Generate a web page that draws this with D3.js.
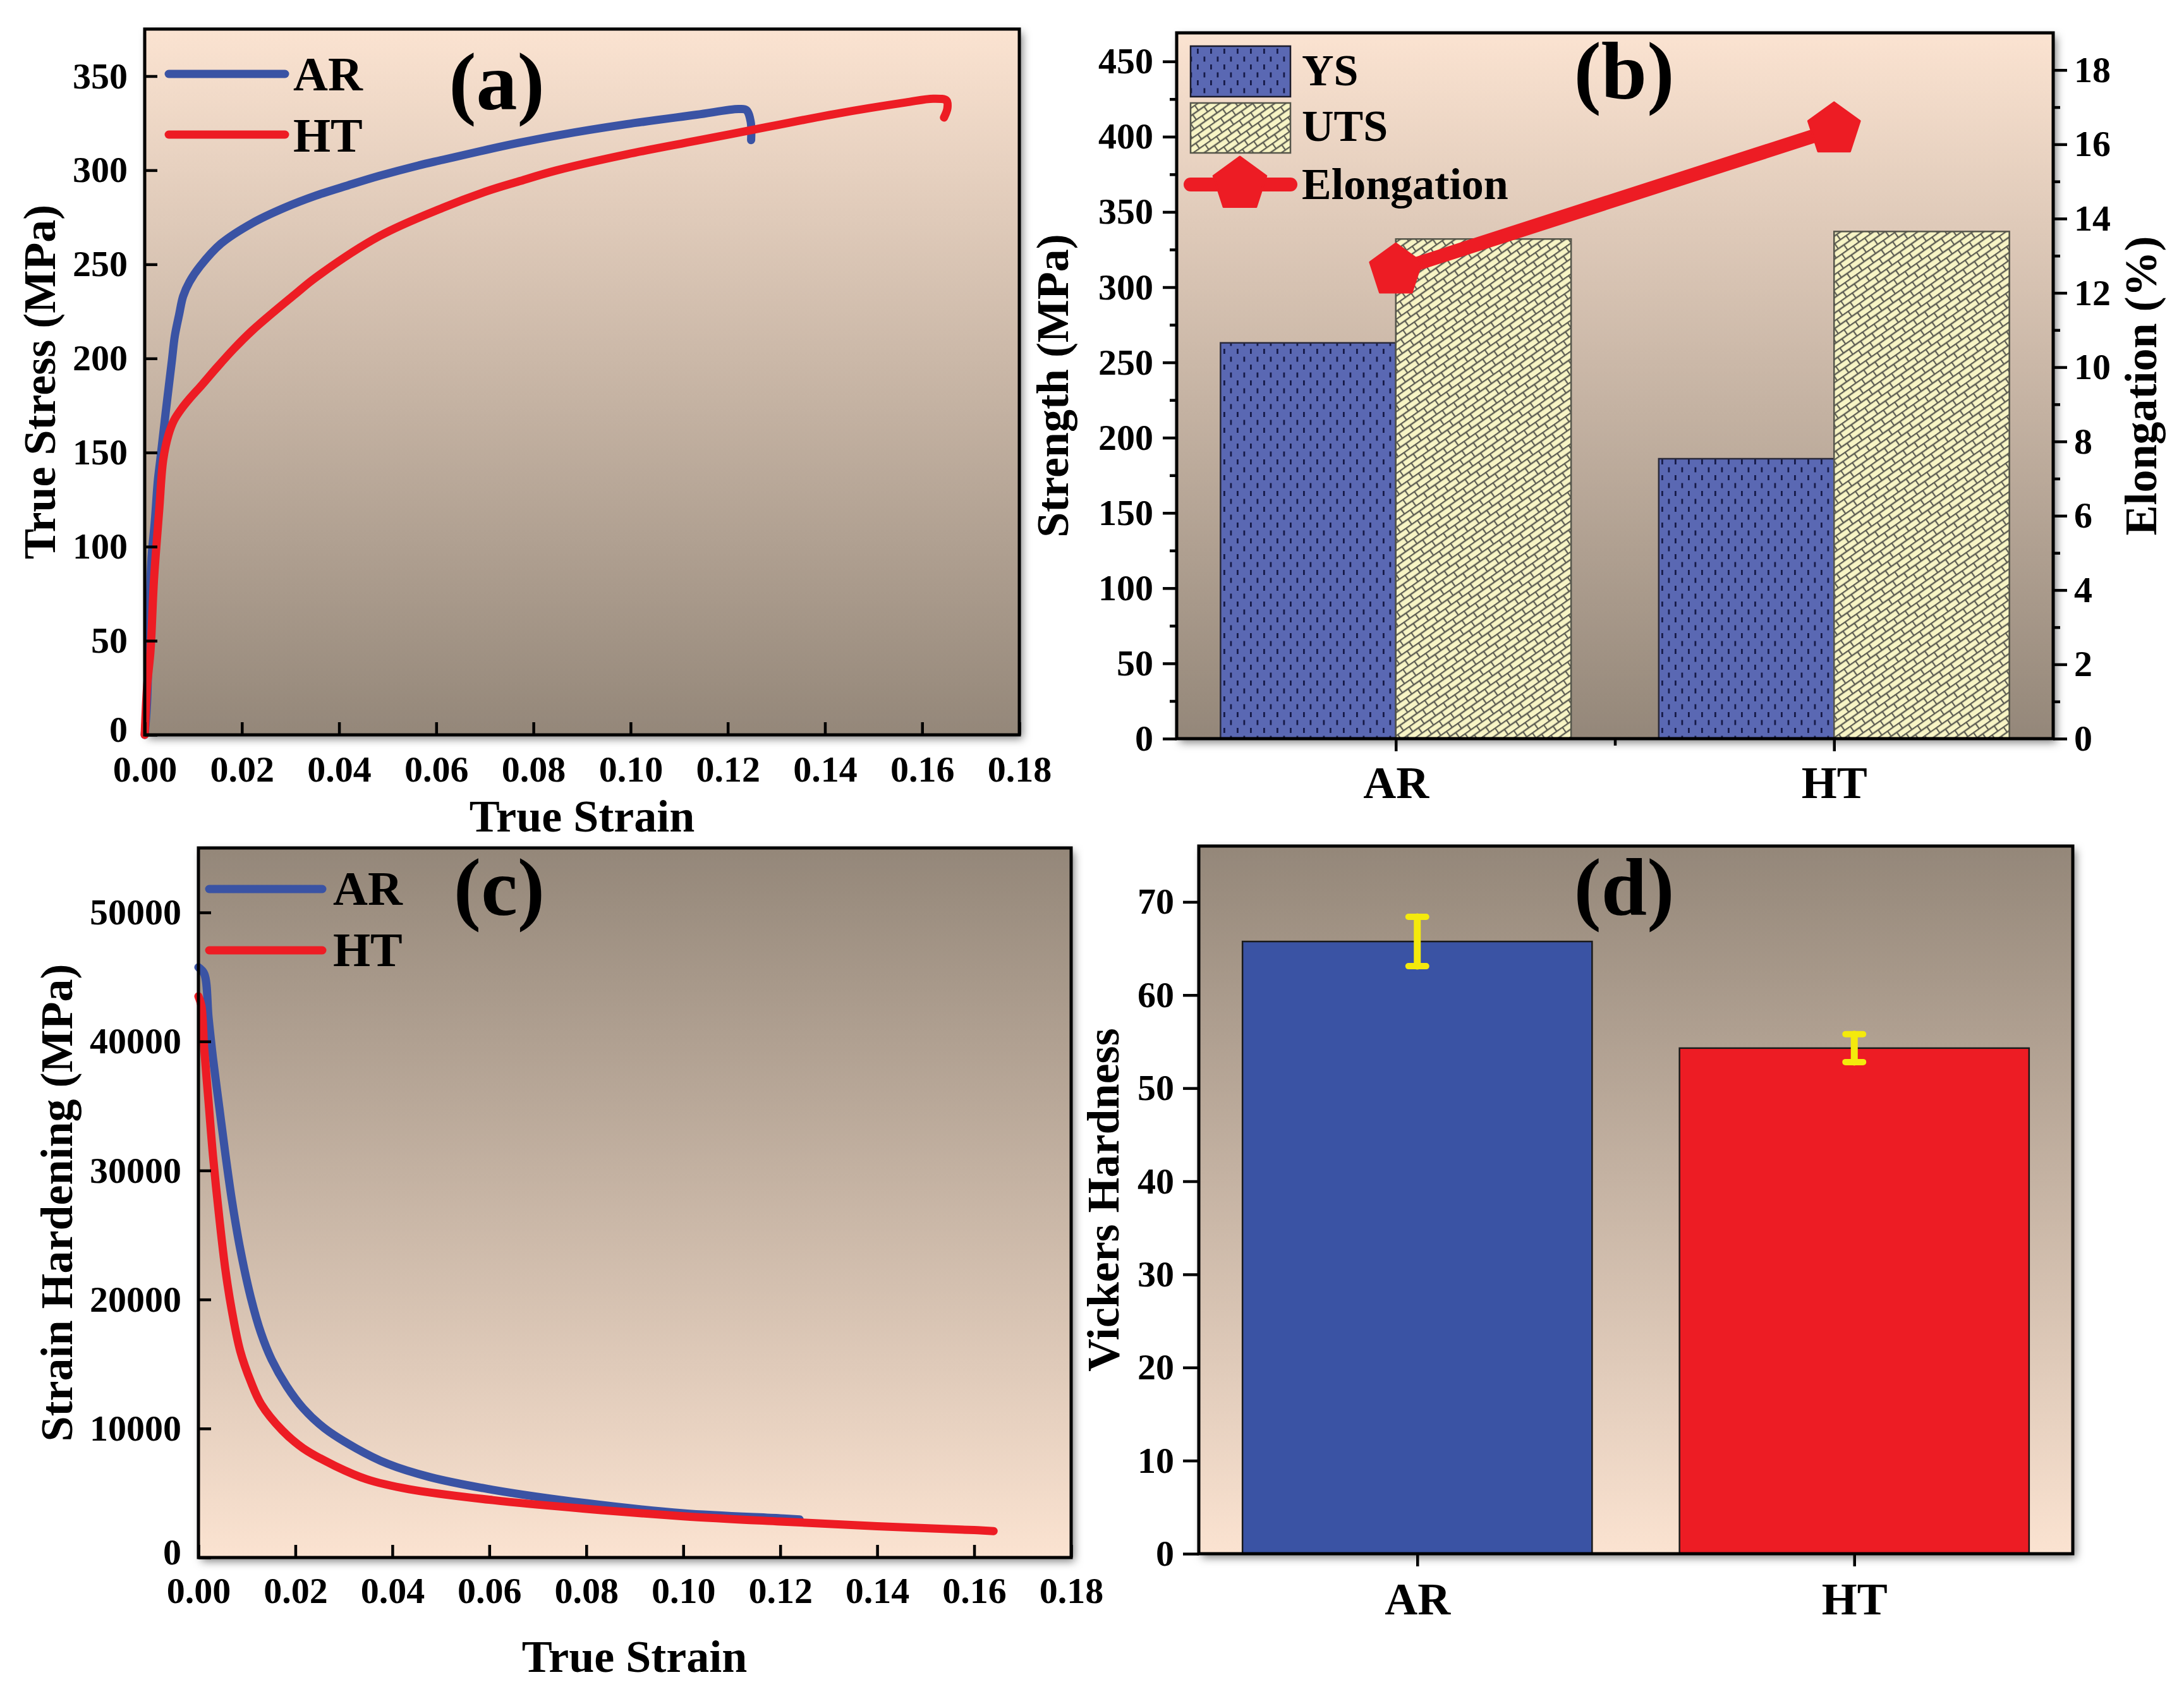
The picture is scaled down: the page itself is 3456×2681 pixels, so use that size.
<!DOCTYPE html>
<html>
<head>
<meta charset="utf-8">
<script src="https://cdn.jsdelivr.net/npm/d3@7/dist/d3.min.js"></script>
<style>
  body { margin: 0; background: #ffffff; }
  svg { display: block; }
</style>
</head>
<body>
<svg id="chart" width="3456" height="2681"></svg>
<script>
// ---------------- DATA ----------------
// (a) true stress-strain
const arStrain = [0, 0.0005, 0.0008, 0.0011, 0.0014, 0.0021, 0.0027, 0.0032, 0.0043, 0.0049, 0.0056, 0.0062, 0.0071, 0.0079, 0.0092, 0.0114, 0.0157, 0.0222, 0.0287, 0.0352, 0.0419, 0.0483, 0.0563, 0.0613, 0.0706, 0.0769, 0.0849, 0.0993, 0.1136, 0.1222, 0.1238, 0.1247, 0.1248];
const arStress = [0, 18, 50, 75, 94, 114, 135, 146, 171, 184, 199, 212, 223.5, 233, 240.6, 249, 261, 272, 280, 286.5, 292, 297, 302.5, 305.5, 311, 314.5, 318.5, 324.5, 329.5, 332.5, 332, 326, 316];
const htStrain = [0, 0.0005, 0.0012, 0.0019, 0.0030, 0.0038, 0.0049, 0.0060, 0.0075, 0.0092, 0.0118, 0.0148, 0.0183, 0.0222, 0.0309, 0.0352, 0.0483, 0.0613, 0.0706, 0.0769, 0.0849, 0.0993, 0.1136, 0.1280, 0.1423, 0.1566, 0.1623, 0.1650, 0.1652, 0.1645];
const htStress = [0, 26, 45, 82, 120, 146, 159.5, 167, 173, 178.5, 186, 195, 205, 215, 234, 243, 265, 280, 289, 294, 300, 308.5, 315.7, 322.9, 330, 336, 338, 337, 333, 328];

// (b) strength & elongation
const categories = ["AR", "HT"];
const ysValues = [263, 186];
const utsValues = [332, 337];
const elongValues = [12.6, 16.4];

// (c) strain hardening
const arHardStrain = [0, 0.0012, 0.0021, 0.0030, 0.0043, 0.0056, 0.0069, 0.0086, 0.0108, 0.0129, 0.0151, 0.0182, 0.0216, 0.0260, 0.0325, 0.0390, 0.0477, 0.0607, 0.08, 0.10, 0.12, 0.124];
const arHardValue = [45750, 45250, 41800, 38700, 34900, 31150, 27700, 23950, 20150, 17400, 15340, 13280, 11570, 10020, 8470, 7270, 6240, 5250, 4210, 3430, 3040, 2950];
const htHardStrain = [0, 0.0006, 0.0012, 0.0021, 0.0030, 0.0043, 0.0056, 0.0069, 0.0086, 0.0108, 0.0129, 0.0173, 0.0216, 0.0282, 0.0347, 0.0434, 0.0607, 0.08, 0.10, 0.12, 0.14, 0.16, 0.164];
const htHardValue = [43500, 42800, 39400, 35270, 31150, 26350, 22200, 19120, 16030, 13630, 11910, 9850, 8470, 7100, 6070, 5300, 4450, 3770, 3200, 2790, 2430, 2125, 2050];

// (d) Vickers hardness
const hvValues = [65.75, 54.3];
const hvErrors = [2.65, 1.5];

// tick labels
const strainTicks = [0, 0.02, 0.04, 0.06, 0.08, 0.10, 0.12, 0.14, 0.16, 0.18];
const stressTicks = [0, 50, 100, 150, 200, 250, 300, 350];
const strengthTicks = [0, 50, 100, 150, 200, 250, 300, 350, 400, 450];
const strengthMinor = [25, 75, 125, 175, 225, 275, 325, 375, 425];
const elongTicks = [0, 2, 4, 6, 8, 10, 12, 14, 16, 18];
const elongMinor = [1, 3, 5, 7, 9, 11, 13, 15, 17];
const hardTicks = [0, 10000, 20000, 30000, 40000, 50000];
const hvTicks = [0, 10, 20, 30, 40, 50, 60, 70];

// ---------------- STYLE ----------------
const FONT = "'Liberation Serif', 'Times New Roman', serif";
const BLUE = "#3a53a4";
const RED = "#ed1c24";
const PEACH = "#fbe3d1";
const TAUPE = "#948779";

const svg = d3.select("#chart");
const defs = svg.append("defs");

function gradient(id, c0, c1) {
  const g = defs.append("linearGradient").attr("id", id)
    .attr("x1", 0).attr("y1", 0).attr("x2", 0).attr("y2", 1);
  g.append("stop").attr("offset", "0%").attr("stop-color", c0);
  g.append("stop").attr("offset", "100%").attr("stop-color", c1);
}
gradient("gDown", PEACH, TAUPE);
gradient("gUp", TAUPE, PEACH);

const flt = defs.append("filter").attr("id", "shadow")
  .attr("x", "-5%").attr("y", "-5%").attr("width", "112%").attr("height", "112%");
flt.append("feDropShadow").attr("dx", 5).attr("dy", 6).attr("stdDeviation", 7)
  .attr("flood-color", "#000").attr("flood-opacity", 0.5);

// YS pattern: blue with short dark vertical dashes
const pYS = defs.append("pattern").attr("id", "patYS").attr("patternUnits", "userSpaceOnUse")
  .attr("width", 21).attr("height", 25);
pYS.append("rect").attr("width", 21).attr("height", 25).attr("fill", "#5a68b3");
pYS.append("rect").attr("x", 4).attr("y", 2).attr("width", 2.8).attr("height", 8).attr("fill", "#161a48");
pYS.append("rect").attr("x", 14.5).attr("y", 14.5).attr("width", 2.8).attr("height", 8).attr("fill", "#161a48");

// UTS pattern: pale yellow brick weave, rotated
const pU = defs.append("pattern").attr("id", "patUTS").attr("patternUnits", "userSpaceOnUse")
  .attr("width", 22).attr("height", 20).attr("patternTransform", "rotate(-35)");
pU.append("rect").attr("width", 22).attr("height", 20).attr("fill", "#f7f4c5");
const brick = "M0,1 H22 M0,11 H22 M1,0 V11 M12,11 V20";
pU.append("path").attr("d", brick).attr("stroke", "#5c5c52").attr("stroke-width", 2.3).attr("fill", "none");

// layouts (pixel boxes)
const A = { l: 229, r: 1613, t: 46, b: 1163 };
const B = { l: 1862, r: 3249, t: 52, b: 1169 };
const C = { l: 314, r: 1695, t: 1342, b: 2465 };
const D = { l: 1897, r: 3280, t: 1339, b: 2459 };

function background(box, gid) {
  svg.append("rect").attr("x", box.l).attr("y", box.t)
    .attr("width", box.r - box.l).attr("height", box.b - box.t)
    .attr("fill", `url(#${gid})`).attr("filter", "url(#shadow)");
}
function frame(box) {
  svg.append("rect").attr("x", box.l).attr("y", box.t)
    .attr("width", box.r - box.l).attr("height", box.b - box.t)
    .attr("fill", "none").attr("stroke", "#000").attr("stroke-width", 5);
}
function styleAxis(g, size) {
  g.select(".domain").remove();
  g.attr("font-family", FONT).attr("font-size", size).attr("font-weight", "bold");
  g.selectAll("text").attr("fill", "#000");
  g.selectAll("line").attr("stroke", "#000").attr("stroke-width", 4.5);
}
function text(x, y, str, size, anchor, rotate) {
  const t = svg.append("text").attr("font-family", FONT).attr("font-weight", "bold")
    .attr("font-size", size).attr("text-anchor", anchor || "middle").attr("fill", "#000").text(str);
  if (rotate) t.attr("transform", `translate(${x},${y}) rotate(-90)`);
  else t.attr("x", x).attr("y", y);
  return t;
}
function pentagon(cx, cy, R) {
  const pts = d3.range(5).map(k => {
    const a = -Math.PI / 2 + k * 2 * Math.PI / 5;
    return [cx + R * Math.cos(a), cy + R * Math.sin(a)];
  });
  return d3.line()(pts) + "Z";
}
const zip = (xs, ys) => xs.map((v, i) => [v, ys[i]]);
// lift the "0" label of a left axis a little so it clears the corner x label
function liftZero(g) {
  g.selectAll(".tick").filter(d => d === 0).select("text").attr("dy", "0.18em");
}

// ---------------- PANEL (a) ----------------
{
  background(A, "gDown");
  const x = d3.scaleLinear().domain([0, 0.18]).range([A.l, A.r]);
  const y = d3.scaleLinear().domain([0, 375]).range([A.b, A.t]);
  const line = d3.line().x(d => x(d[0])).y(d => y(d[1])).curve(d3.curveCatmullRom.alpha(0.5));
  svg.append("path").datum(zip(arStrain, arStress)).attr("d", line)
    .attr("fill", "none").attr("stroke", BLUE).attr("stroke-width", 13)
    .attr("stroke-linejoin", "round").attr("stroke-linecap", "round");
  svg.append("path").datum(zip(htStrain, htStress)).attr("d", line)
    .attr("fill", "none").attr("stroke", RED).attr("stroke-width", 13)
    .attr("stroke-linejoin", "round").attr("stroke-linecap", "round");

  const gx = svg.append("g").attr("transform", `translate(0,${A.b})`)
    .call(d3.axisBottom(x).tickValues(strainTicks).tickSize(-20).tickPadding(33).tickFormat(d3.format(".2f")));
  styleAxis(gx, 58);
  const gy = svg.append("g").attr("transform", `translate(${A.l},0)`)
    .call(d3.axisLeft(y).tickValues(stressTicks).tickSize(-20).tickPadding(27));
  styleAxis(gy, 58);
  liftZero(gy);
  frame(A);

  text(921, 1316, "True Strain", 72);
  text(87, (A.t + A.b) / 2, "True Stress (MPa)", 72, "middle", true);

  // legend
  [[BLUE, 117, "AR", 143], [RED, 213, "HT", 240]].forEach(([c, ly, lab, by]) => {
    svg.append("line").attr("x1", 267).attr("x2", 451).attr("y1", ly).attr("y2", ly)
      .attr("stroke", c).attr("stroke-width", 13).attr("stroke-linecap", "round");
    text(464, by, lab, 76, "start");
  });
  text(786, 173, "(a)", 130);
}

// ---------------- PANEL (b) ----------------
{
  background(B, "gDown");
  const x = d3.scaleLinear().domain([0.5, 2.5]).range([B.l, B.r]);
  const yL = d3.scaleLinear().domain([0, 469]).range([B.b, B.t]);
  const yR = d3.scaleLinear().domain([0, 19]).range([B.b, B.t]);
  const bw = 0.4;

  svg.append("g").selectAll("rect").data(categories).join("rect")
    .attr("x", (d, i) => x(i + 1 - bw)).attr("width", (d, i) => x(i + 1) - x(i + 1 - bw))
    .attr("y", (d, i) => yL(ysValues[i])).attr("height", (d, i) => yL(0) - yL(ysValues[i]))
    .attr("fill", "url(#patYS)").attr("stroke", "#2a2a3a").attr("stroke-width", 2.5);
  svg.append("g").selectAll("rect").data(categories).join("rect")
    .attr("x", (d, i) => x(i + 1)).attr("width", (d, i) => x(i + 1 + bw) - x(i + 1))
    .attr("y", (d, i) => yL(utsValues[i])).attr("height", (d, i) => yL(0) - yL(utsValues[i]))
    .attr("fill", "url(#patUTS)").attr("stroke", "#55554a").attr("stroke-width", 2.5);

  const pts = categories.map((c, i) => [x(i + 1), yR(elongValues[i])]);
  svg.append("path").attr("d", d3.line()(pts)).attr("fill", "none")
    .attr("stroke", RED).attr("stroke-width", 22).attr("stroke-linecap", "round");
  svg.append("g").selectAll("path").data(pts).join("path")
    .attr("d", d => pentagon(d[0], d[1], 43)).attr("fill", RED)
    .attr("stroke", RED).attr("stroke-width", 3).attr("stroke-linejoin", "round");

  const gx = svg.append("g").attr("transform", `translate(0,${B.b})`)
    .call(d3.axisBottom(x).tickValues([1, 2]).tickSize(20).tickPadding(23).tickFormat((d, i) => categories[i]));
  styleAxis(gx, 72);
  const gxm = svg.append("g").attr("transform", `translate(0,${B.b})`)
    .call(d3.axisBottom(x).tickValues([1.5]).tickSize(11).tickFormat(""));
  styleAxis(gxm, 72);

  const gy = svg.append("g").attr("transform", `translate(${B.l},0)`)
    .call(d3.axisLeft(yL).tickValues(strengthTicks).tickSize(22).tickPadding(15));
  styleAxis(gy, 58);
  const gym = svg.append("g").attr("transform", `translate(${B.l},0)`)
    .call(d3.axisLeft(yL).tickValues(strengthMinor).tickSize(11).tickFormat(""));
  styleAxis(gym, 58);

  const gr = svg.append("g").attr("transform", `translate(${B.r},0)`)
    .call(d3.axisRight(yR).tickValues(elongTicks).tickSize(22).tickPadding(11));
  styleAxis(gr, 58);
  const grm = svg.append("g").attr("transform", `translate(${B.r},0)`)
    .call(d3.axisRight(yR).tickValues(elongMinor).tickSize(11).tickFormat(""));
  styleAxis(grm, 58);
  frame(B);

  text(1690, (B.t + B.b) / 2, "Strength (MPa)", 72, "middle", true);
  text(3412, (B.t + B.b) / 2, "Elongation (%)", 72, "middle", true);

  // legend
  svg.append("rect").attr("x", 1884).attr("y", 73).attr("width", 158).attr("height", 80)
    .attr("fill", "url(#patYS)").attr("stroke", "#1a1a2a").attr("stroke-width", 2.5);
  svg.append("rect").attr("x", 1884).attr("y", 163).attr("width", 158).attr("height", 79)
    .attr("fill", "url(#patUTS)").attr("stroke", "#55554a").attr("stroke-width", 2.5);
  svg.append("line").attr("x1", 1884).attr("x2", 2042).attr("y1", 292).attr("y2", 292)
    .attr("stroke", RED).attr("stroke-width", 22).attr("stroke-linecap", "round");
  svg.append("path").attr("d", pentagon(1962, 292, 44)).attr("fill", RED)
    .attr("stroke", RED).attr("stroke-width", 3).attr("stroke-linejoin", "round");
  text(2060, 135, "YS", 70, "start");
  text(2060, 223, "UTS", 70, "start");
  text(2060, 315, "Elongation", 70, "start");
  text(2570, 156, "(b)", 130);
}

// ---------------- PANEL (c) ----------------
{
  background(C, "gUp");
  const x = d3.scaleLinear().domain([0, 0.18]).range([C.l, C.r]);
  const y = d3.scaleLinear().domain([0, 55000]).range([C.b, C.t]);
  const line = d3.line().x(d => x(d[0])).y(d => y(d[1])).curve(d3.curveCatmullRom.alpha(0.5));
  svg.append("path").datum(zip(arHardStrain, arHardValue)).attr("d", line)
    .attr("fill", "none").attr("stroke", BLUE).attr("stroke-width", 13)
    .attr("stroke-linejoin", "round").attr("stroke-linecap", "round");
  svg.append("path").datum(zip(htHardStrain, htHardValue)).attr("d", line)
    .attr("fill", "none").attr("stroke", RED).attr("stroke-width", 13)
    .attr("stroke-linejoin", "round").attr("stroke-linecap", "round");

  const gx = svg.append("g").attr("transform", `translate(0,${C.b})`)
    .call(d3.axisBottom(x).tickValues(strainTicks).tickSize(-20).tickPadding(31).tickFormat(d3.format(".2f")));
  styleAxis(gx, 58);
  const gy = svg.append("g").attr("transform", `translate(${C.l},0)`)
    .call(d3.axisLeft(y).tickValues(hardTicks).tickSize(-20).tickPadding(27).tickFormat(d3.format("d")));
  styleAxis(gy, 58);
  liftZero(gy);
  frame(C);

  text(1004, 2646, "True Strain", 72);
  text(114, (C.t + C.b) / 2, "Strain Hardening (MPa)", 72, "middle", true);

  [[BLUE, 1407, "AR", 1432], [RED, 1504, "HT", 1529]].forEach(([c, ly, lab, by]) => {
    svg.append("line").attr("x1", 331).attr("x2", 510).attr("y1", ly).attr("y2", ly)
      .attr("stroke", c).attr("stroke-width", 13).attr("stroke-linecap", "round");
    text(527, by, lab, 76, "start");
  });
  text(790, 1448, "(c)", 130);
}

// ---------------- PANEL (d) ----------------
{
  background(D, "gUp");
  const x = d3.scaleLinear().domain([0.5, 2.5]).range([D.l, D.r]);
  const y = d3.scaleLinear().domain([0, 76]).range([D.b, D.t]);
  const bw = 0.4;
  const colors = [BLUE, RED];
  svg.append("g").selectAll("rect").data(categories).join("rect")
    .attr("x", (d, i) => x(i + 1 - bw)).attr("width", (d, i) => x(i + 1 + bw) - x(i + 1 - bw))
    .attr("y", (d, i) => y(hvValues[i])).attr("height", (d, i) => y(0) - y(hvValues[i]))
    .attr("fill", (d, i) => colors[i]).attr("stroke", "#1a1a1a").attr("stroke-width", 2.5);

  // error bars
  const eb = svg.append("g").attr("stroke", "#f4ea0c").attr("stroke-linecap", "round");
  categories.forEach((c, i) => {
    const cx = x(i + 1);
    const yt = y(hvValues[i] + hvErrors[i]);
    const ybt = y(hvValues[i] - hvErrors[i]);
    eb.append("line").attr("x1", cx).attr("x2", cx).attr("y1", yt).attr("y2", ybt).attr("stroke-width", 11);
    eb.append("line").attr("x1", cx - 14).attr("x2", cx + 14).attr("y1", yt).attr("y2", yt).attr("stroke-width", 10);
    eb.append("line").attr("x1", cx - 14).attr("x2", cx + 14).attr("y1", ybt).attr("y2", ybt).attr("stroke-width", 10);
  });

  const gx = svg.append("g").attr("transform", `translate(0,${D.b})`)
    .call(d3.axisBottom(x).tickValues([1, 2]).tickSize(20).tickPadding(25).tickFormat((d, i) => categories[i]));
  styleAxis(gx, 72);
  const gy = svg.append("g").attr("transform", `translate(${D.l},0)`)
    .call(d3.axisLeft(y).tickValues(hvTicks).tickSize(25).tickPadding(14));
  styleAxis(gy, 58);
  frame(D);

  text(1770, (D.t + D.b) / 2, "Vickers Hardness", 72, "middle", true);
  text(2570, 1448, "(d)", 130);
}
</script>
</body>
</html>
